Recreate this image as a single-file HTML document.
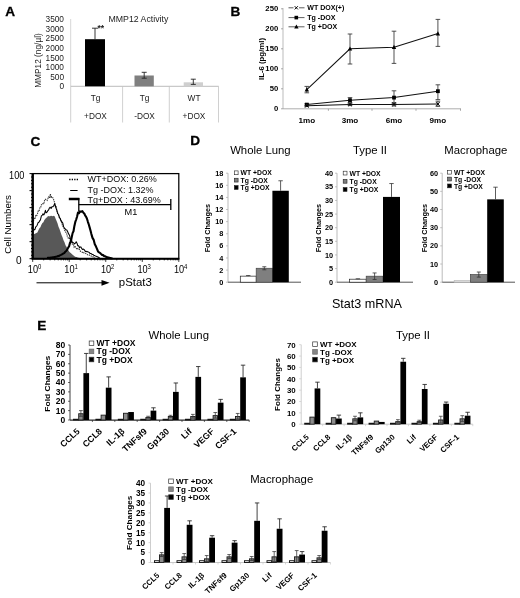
<!DOCTYPE html>
<html lang="en">
<head>
<meta charset="utf-8">
<title>Figure</title>
<style>
html,body{margin:0;padding:0;background:#fff;}
body{width:520px;height:598px;overflow:hidden;}
svg{display:block;filter:blur(0.4px);font-family:'Liberation Sans', sans-serif;}
</style>
</head>
<body>
<svg width="520" height="598" viewBox="0 0 520 598">
<rect x="0" y="0" width="520" height="598" fill="#fff"/>
<text x="5.20" y="16.00" font-size="13.6" font-weight="bold" text-anchor="start" fill="#000" stroke="#000" stroke-width="0.3">A</text>
<text x="230.40" y="16.00" font-size="13.6" font-weight="bold" text-anchor="start" fill="#000" stroke="#000" stroke-width="0.3">B</text>
<text x="30.50" y="146.00" font-size="13.6" font-weight="bold" text-anchor="start" fill="#000" stroke="#000" stroke-width="0.3">C</text>
<text x="190.30" y="145.20" font-size="13.6" font-weight="bold" text-anchor="start" fill="#000" stroke="#000" stroke-width="0.3">D</text>
<text x="37.20" y="329.50" font-size="13.6" font-weight="bold" text-anchor="start" fill="#000" stroke="#000" stroke-width="0.3">E</text>
<g id="panelA">
<text x="64.00" y="89.20" font-size="8.3" text-anchor="end" fill="#222">0</text>
<text x="64.00" y="79.65" font-size="8.3" text-anchor="end" fill="#222">500</text>
<text x="64.00" y="70.10" font-size="8.3" text-anchor="end" fill="#222">1000</text>
<text x="64.00" y="60.55" font-size="8.3" text-anchor="end" fill="#222">1500</text>
<text x="64.00" y="51.00" font-size="8.3" text-anchor="end" fill="#222">2000</text>
<text x="64.00" y="41.45" font-size="8.3" text-anchor="end" fill="#222">2500</text>
<text x="64.00" y="31.90" font-size="8.3" text-anchor="end" fill="#222">3000</text>
<text x="64.00" y="22.35" font-size="8.3" text-anchor="end" fill="#222">3500</text>
<line x1="70.70" y1="19.00" x2="70.70" y2="86.30" stroke="#ccc" stroke-width="0.8"/>
<line x1="70.70" y1="86.30" x2="218.70" y2="86.30" stroke="#aaa" stroke-width="0.8"/>
<line x1="70.70" y1="86.30" x2="70.70" y2="122.50" stroke="#c4c4c4" stroke-width="0.8"/>
<line x1="122.60" y1="86.30" x2="122.60" y2="122.50" stroke="#c4c4c4" stroke-width="0.8"/>
<line x1="169.30" y1="86.30" x2="169.30" y2="122.50" stroke="#c4c4c4" stroke-width="0.8"/>
<line x1="218.50" y1="86.30" x2="218.50" y2="122.50" stroke="#c4c4c4" stroke-width="0.8"/>
<text x="41.20" y="60.50" font-size="8.3" text-anchor="middle" fill="#222" transform="rotate(-90 41.20 60.50)">MMP12 (ng/µl)</text>
<text x="108.50" y="21.70" font-size="8.75" text-anchor="start" fill="#222">MMP12 Activity</text>
<rect x="85.00" y="39.20" width="20.00" height="47.10" fill="#000"/>
<line x1="95.00" y1="28.20" x2="95.00" y2="39.20" stroke="#222" stroke-width="0.9"/>
<line x1="92.00" y1="28.20" x2="98.00" y2="28.20" stroke="#222" stroke-width="0.9"/>
<text x="97.40" y="31.00" font-size="8.6" font-weight="bold" text-anchor="start" fill="#222">**</text>
<rect x="134.50" y="75.50" width="19.30" height="10.80" fill="#7f7f7f"/>
<line x1="144.20" y1="72.30" x2="144.20" y2="78.20" stroke="#222" stroke-width="0.9"/>
<line x1="141.70" y1="72.30" x2="146.70" y2="72.30" stroke="#222" stroke-width="0.9"/>
<line x1="141.70" y1="78.20" x2="146.70" y2="78.20" stroke="#222" stroke-width="0.9"/>
<rect x="183.70" y="82.30" width="19.30" height="4.00" fill="#cfcfcf"/>
<line x1="193.30" y1="79.20" x2="193.30" y2="84.40" stroke="#222" stroke-width="0.9"/>
<line x1="190.80" y1="79.20" x2="195.80" y2="79.20" stroke="#222" stroke-width="0.9"/>
<line x1="190.80" y1="84.40" x2="195.80" y2="84.40" stroke="#222" stroke-width="0.9"/>
<text x="95.50" y="101.00" font-size="8.3" text-anchor="middle" fill="#222">Tg</text>
<text x="95.50" y="119.00" font-size="8.3" text-anchor="middle" fill="#222">+DOX</text>
<text x="144.50" y="101.00" font-size="8.3" text-anchor="middle" fill="#222">Tg</text>
<text x="144.50" y="119.00" font-size="8.3" text-anchor="middle" fill="#222">-DOX</text>
<text x="194.00" y="101.00" font-size="8.3" text-anchor="middle" fill="#222">WT</text>
<text x="194.00" y="119.00" font-size="8.3" text-anchor="middle" fill="#222">+DOX</text>
</g>
<g id="panelB">
<line x1="283.00" y1="8.00" x2="283.00" y2="108.80" stroke="#aaa" stroke-width="0.8"/>
<line x1="283.00" y1="108.80" x2="461.00" y2="108.80" stroke="#999" stroke-width="0.8"/>
<text x="278.20" y="111.30" font-size="7.7" font-weight="bold" text-anchor="end" fill="#000">0</text>
<line x1="281.00" y1="108.80" x2="283.00" y2="108.80" stroke="#888" stroke-width="0.7"/>
<text x="278.20" y="91.30" font-size="7.7" font-weight="bold" text-anchor="end" fill="#000">50</text>
<line x1="281.00" y1="88.80" x2="283.00" y2="88.80" stroke="#888" stroke-width="0.7"/>
<text x="278.20" y="71.30" font-size="7.7" font-weight="bold" text-anchor="end" fill="#000">100</text>
<line x1="281.00" y1="68.80" x2="283.00" y2="68.80" stroke="#888" stroke-width="0.7"/>
<text x="278.20" y="51.30" font-size="7.7" font-weight="bold" text-anchor="end" fill="#000">150</text>
<line x1="281.00" y1="48.80" x2="283.00" y2="48.80" stroke="#888" stroke-width="0.7"/>
<text x="278.20" y="31.30" font-size="7.7" font-weight="bold" text-anchor="end" fill="#000">200</text>
<line x1="281.00" y1="28.80" x2="283.00" y2="28.80" stroke="#888" stroke-width="0.7"/>
<text x="278.20" y="11.30" font-size="7.7" font-weight="bold" text-anchor="end" fill="#000">250</text>
<line x1="281.00" y1="8.80" x2="283.00" y2="8.80" stroke="#888" stroke-width="0.7"/>
<line x1="328.40" y1="108.80" x2="328.40" y2="110.80" stroke="#888" stroke-width="0.7"/>
<line x1="372.00" y1="108.80" x2="372.00" y2="110.80" stroke="#888" stroke-width="0.7"/>
<line x1="416.00" y1="108.80" x2="416.00" y2="110.80" stroke="#888" stroke-width="0.7"/>
<line x1="460.50" y1="108.80" x2="460.50" y2="110.80" stroke="#888" stroke-width="0.7"/>
<text x="306.80" y="122.80" font-size="8.1" font-weight="bold" text-anchor="middle" fill="#000">1mo</text>
<text x="350.00" y="122.80" font-size="8.1" font-weight="bold" text-anchor="middle" fill="#000">3mo</text>
<text x="394.00" y="122.80" font-size="8.1" font-weight="bold" text-anchor="middle" fill="#000">6mo</text>
<text x="437.90" y="122.80" font-size="8.1" font-weight="bold" text-anchor="middle" fill="#000">9mo</text>
<text x="264.00" y="59.00" font-size="7.8" font-weight="bold" text-anchor="middle" fill="#000" transform="rotate(-90 264.00 59.00)">IL-6 (pg/ml)</text>
<polyline fill="none" stroke="#111" stroke-width="1.05" points="306.8,89.6 350.0,48.8 394.0,47.2 437.9,33.6"/>
<polyline fill="none" stroke="#111" stroke-width="1.05" points="306.8,104.6 350.0,100.2 394.0,97.6 437.9,91.2"/>
<polyline fill="none" stroke="#111" stroke-width="1.05" points="306.8,105.8 350.0,104.4 394.0,104.4 437.9,104.0"/>
<line x1="306.80" y1="86.40" x2="306.80" y2="92.80" stroke="#333" stroke-width="0.85"/>
<line x1="304.50" y1="86.40" x2="309.10" y2="86.40" stroke="#333" stroke-width="0.85"/>
<line x1="304.50" y1="92.80" x2="309.10" y2="92.80" stroke="#333" stroke-width="0.85"/>
<path d="M304.6 91.4L309.0 91.4L306.8 87.2Z" fill="#000"/>
<line x1="350.00" y1="34.00" x2="350.00" y2="64.00" stroke="#333" stroke-width="0.85"/>
<line x1="347.70" y1="34.00" x2="352.30" y2="34.00" stroke="#333" stroke-width="0.85"/>
<line x1="347.70" y1="64.00" x2="352.30" y2="64.00" stroke="#333" stroke-width="0.85"/>
<path d="M347.8 50.6L352.2 50.6L350.0 46.4Z" fill="#000"/>
<line x1="394.00" y1="31.20" x2="394.00" y2="63.40" stroke="#333" stroke-width="0.85"/>
<line x1="391.70" y1="31.20" x2="396.30" y2="31.20" stroke="#333" stroke-width="0.85"/>
<line x1="391.70" y1="63.40" x2="396.30" y2="63.40" stroke="#333" stroke-width="0.85"/>
<path d="M391.8 49.0L396.2 49.0L394.0 44.8Z" fill="#000"/>
<line x1="437.90" y1="19.40" x2="437.90" y2="46.40" stroke="#333" stroke-width="0.85"/>
<line x1="435.60" y1="19.40" x2="440.20" y2="19.40" stroke="#333" stroke-width="0.85"/>
<line x1="435.60" y1="46.40" x2="440.20" y2="46.40" stroke="#333" stroke-width="0.85"/>
<path d="M435.7 35.4L440.1 35.4L437.9 31.2Z" fill="#000"/>
<line x1="306.80" y1="103.60" x2="306.80" y2="105.60" stroke="#333" stroke-width="0.85"/>
<line x1="304.50" y1="103.60" x2="309.10" y2="103.60" stroke="#333" stroke-width="0.85"/>
<line x1="304.50" y1="105.60" x2="309.10" y2="105.60" stroke="#333" stroke-width="0.85"/>
<rect x="304.90" y="102.70" width="3.80" height="3.80" fill="#000"/>
<line x1="350.00" y1="97.60" x2="350.00" y2="102.80" stroke="#333" stroke-width="0.85"/>
<line x1="347.70" y1="97.60" x2="352.30" y2="97.60" stroke="#333" stroke-width="0.85"/>
<line x1="347.70" y1="102.80" x2="352.30" y2="102.80" stroke="#333" stroke-width="0.85"/>
<rect x="348.10" y="98.30" width="3.80" height="3.80" fill="#000"/>
<line x1="394.00" y1="90.80" x2="394.00" y2="103.20" stroke="#333" stroke-width="0.85"/>
<line x1="391.70" y1="90.80" x2="396.30" y2="90.80" stroke="#333" stroke-width="0.85"/>
<line x1="391.70" y1="103.20" x2="396.30" y2="103.20" stroke="#333" stroke-width="0.85"/>
<rect x="392.10" y="95.70" width="3.80" height="3.80" fill="#000"/>
<line x1="437.90" y1="84.80" x2="437.90" y2="99.60" stroke="#333" stroke-width="0.85"/>
<line x1="435.60" y1="84.80" x2="440.20" y2="84.80" stroke="#333" stroke-width="0.85"/>
<line x1="435.60" y1="99.60" x2="440.20" y2="99.60" stroke="#333" stroke-width="0.85"/>
<rect x="436.00" y="89.30" width="3.80" height="3.80" fill="#000"/>
<line x1="306.80" y1="105.00" x2="306.80" y2="106.60" stroke="#333" stroke-width="0.85"/>
<line x1="304.50" y1="105.00" x2="309.10" y2="105.00" stroke="#333" stroke-width="0.85"/>
<line x1="304.50" y1="106.60" x2="309.10" y2="106.60" stroke="#333" stroke-width="0.85"/>
<line x1="305.00" y1="104.00" x2="308.60" y2="107.60" stroke="#000" stroke-width="1.0"/>
<line x1="305.00" y1="107.60" x2="308.60" y2="104.00" stroke="#000" stroke-width="1.0"/>
<line x1="350.00" y1="103.20" x2="350.00" y2="105.60" stroke="#333" stroke-width="0.85"/>
<line x1="347.70" y1="103.20" x2="352.30" y2="103.20" stroke="#333" stroke-width="0.85"/>
<line x1="347.70" y1="105.60" x2="352.30" y2="105.60" stroke="#333" stroke-width="0.85"/>
<line x1="348.20" y1="102.60" x2="351.80" y2="106.20" stroke="#000" stroke-width="1.0"/>
<line x1="348.20" y1="106.20" x2="351.80" y2="102.60" stroke="#000" stroke-width="1.0"/>
<line x1="394.00" y1="102.80" x2="394.00" y2="106.00" stroke="#333" stroke-width="0.85"/>
<line x1="391.70" y1="102.80" x2="396.30" y2="102.80" stroke="#333" stroke-width="0.85"/>
<line x1="391.70" y1="106.00" x2="396.30" y2="106.00" stroke="#333" stroke-width="0.85"/>
<line x1="392.20" y1="102.60" x2="395.80" y2="106.20" stroke="#000" stroke-width="1.0"/>
<line x1="392.20" y1="106.20" x2="395.80" y2="102.60" stroke="#000" stroke-width="1.0"/>
<line x1="437.90" y1="101.20" x2="437.90" y2="106.40" stroke="#333" stroke-width="0.85"/>
<line x1="435.60" y1="101.20" x2="440.20" y2="101.20" stroke="#333" stroke-width="0.85"/>
<line x1="435.60" y1="106.40" x2="440.20" y2="106.40" stroke="#333" stroke-width="0.85"/>
<line x1="436.10" y1="102.20" x2="439.70" y2="105.80" stroke="#000" stroke-width="1.0"/>
<line x1="436.10" y1="105.80" x2="439.70" y2="102.20" stroke="#000" stroke-width="1.0"/>
<line x1="288.50" y1="7.80" x2="304.50" y2="7.80" stroke="#333" stroke-width="0.8"/>
<rect x="293.50" y="5.80" width="5.50" height="4.00" fill="#fff"/>
<line x1="294.70" y1="6.20" x2="297.90" y2="9.40" stroke="#000" stroke-width="1.0"/>
<line x1="294.70" y1="9.40" x2="297.90" y2="6.20" stroke="#000" stroke-width="1.0"/>
<text x="307.30" y="10.40" font-size="7.05" font-weight="bold" text-anchor="start" fill="#000">WT DOX(+)</text>
<line x1="288.50" y1="17.60" x2="304.50" y2="17.60" stroke="#333" stroke-width="0.8"/>
<rect x="294.50" y="15.80" width="3.60" height="3.60" fill="#000"/>
<text x="307.30" y="20.20" font-size="7.05" font-weight="bold" text-anchor="start" fill="#000">Tg -DOX</text>
<line x1="288.50" y1="26.80" x2="304.50" y2="26.80" stroke="#333" stroke-width="0.8"/>
<path d="M294.2 28.6L298.6 28.6L296.4 24.400000000000002Z" fill="#000"/>
<text x="307.30" y="29.40" font-size="7.05" font-weight="bold" text-anchor="start" fill="#000">Tg +DOX</text>
</g>
<g id="panelC">
<path d="M33.4,258.2 L33.4,234.5 L34.4,234.0 L35.4,233.4 L36.4,233.1 L37.4,232.6 L38.4,230.2 L39.4,228.3 L40.4,227.2 L41.4,224.8 L42.4,223.1 L43.4,222.2 L44.4,220.1 L45.4,218.8 L46.3,217.7 L47.1,217.2 L48.0,216.0 L49.0,216.2 L50.0,216.3 L51.0,215.7 L52.0,216.1 L52.9,216.2 L53.8,215.7 L54.8,216.6 L55.7,218.9 L56.6,221.1 L57.5,223.3 L58.5,226.8 L59.5,229.1 L60.5,232.0 L61.5,234.9 L62.5,237.3 L63.5,240.2 L64.5,242.3 L65.5,245.2 L66.5,246.7 L67.5,248.7 L68.5,250.4 L69.5,251.9 L70.4,252.7 L71.3,253.5 L72.2,254.4 L73.1,255.1 L74.0,255.9 L74.9,256.6 L75.8,256.9 L76.6,257.1 L77.5,257.4 L78.3,257.7 L79.2,257.9 L80.0,258.2 Z" fill="#585858"/>
<path d="M33.4,221.2 L34.2,218.5 L35.0,219.1 L35.8,215.6 L36.6,216.0 L37.4,214.0 L38.2,211.2 L39.0,211.3 L39.8,207.9 L40.6,207.8 L41.4,204.8 L42.2,203.6 L43.0,203.7 L43.8,204.0 L44.6,200.2 L45.4,199.3 L46.3,200.1 L47.1,200.5 L48.0,198.3 L48.8,196.8 L49.6,198.2 L50.4,193.9 L51.1,197.9 L51.8,196.7 L52.5,197.1 L53.5,199.3 L54.5,202.3 L55.3,206.6 L56.1,206.6 L56.9,210.5 L57.7,213.1 L58.5,214.5 L59.3,217.6 L60.1,218.1 L60.9,220.0 L61.7,222.4 L62.6,226.1 L63.4,227.0 L64.2,228.5 L65.0,231.1 L65.8,232.2 L66.6,233.2 L67.4,236.7 L68.2,238.0 L69.1,237.6 L70.0,240.1 L70.9,241.3 L71.7,243.6 L72.5,244.2 L73.3,244.1 L74.1,247.1 L74.9,246.1 L75.7,247.4 L76.6,248.7 L77.4,248.0 L78.2,249.2 L79.1,249.0 L79.9,250.7 L80.8,251.4 L81.6,251.6 L82.4,252.4 L83.2,252.0 L84.0,252.9 L84.8,253.1 L85.6,253.5 L86.4,253.7 L87.2,254.4 L88.0,254.9 L88.8,254.8 L89.6,255.3 L90.3,255.2 L91.1,255.9 L91.9,256.2 L92.7,256.7 L93.4,256.9 L94.2,257.1 L95.0,257.5" fill="none" stroke="#333" stroke-width="1.1" stroke-dasharray="1.3 0.8"/>
<path d="M33.4,230.5 L34.2,229.6 L34.9,229.6 L35.7,227.0 L36.5,226.1 L37.2,225.2 L38.0,222.8 L38.9,222.2 L39.7,220.9 L40.5,219.7 L41.4,215.8 L42.2,215.4 L43.0,213.7 L43.8,214.9 L44.6,213.5 L45.4,210.3 L46.2,212.8 L47.0,212.2 L47.8,210.7 L48.6,210.0 L49.4,208.0 L50.2,207.2 L51.1,208.5 L51.9,206.7 L52.8,206.8 L53.8,205.6 L54.8,203.6 L55.8,207.6 L56.8,210.2 L57.6,213.5 L58.5,214.5 L59.3,216.9 L60.1,218.5 L61.0,220.8 L61.9,221.9 L62.8,223.1 L63.6,226.7 L64.4,228.1 L65.2,228.9 L66.0,229.8 L66.8,229.9 L67.7,231.7 L68.6,233.9 L69.5,235.2 L70.5,239.4 L71.5,240.2 L72.5,242.8 L73.5,242.7 L74.5,243.9 L75.4,243.2 L76.2,241.7 L77.0,243.2 L77.8,245.8 L78.6,245.7 L79.4,247.6 L80.2,247.0 L80.9,246.9 L81.7,248.5 L82.4,249.4 L83.2,249.1 L83.9,249.4 L84.7,250.4 L85.5,251.6 L86.2,251.7 L87.0,251.3 L87.8,251.9 L88.6,252.1 L89.3,252.5 L90.1,253.6 L90.9,253.4 L91.6,254.1 L92.4,254.4 L93.1,254.6 L93.9,255.4 L94.6,255.4 L95.4,256.1 L96.2,256.2 L96.9,256.6 L97.7,256.9 L98.5,257.3 L99.2,257.7 L100.0,258.0" fill="none" stroke="#000" stroke-width="1.05" stroke-linejoin="round"/>
<path d="M47.0,258.0 L48.0,257.9 L49.0,257.8 L50.0,257.7 L51.0,257.6 L52.0,257.5 L53.0,257.2 L54.0,257.1 L54.9,256.9 L55.9,256.7 L56.9,256.5 L57.8,256.1 L58.8,256.0 L59.9,255.4 L61.0,254.9 L62.0,254.4 L63.1,253.6 L64.2,253.1 L65.2,251.8 L66.2,251.0 L67.2,249.6 L68.2,247.6 L69.1,246.2 L70.0,242.9 L70.9,241.4 L71.8,236.9 L72.6,233.1 L73.5,231.2 L74.4,225.9 L75.3,221.9 L76.2,219.5 L77.1,216.5 L78.0,212.6 L79.0,213.1 L80.0,211.4 L81.1,211.8 L82.3,211.0 L83.4,212.7 L84.3,213.5 L85.1,215.4 L86.0,216.6 L86.9,218.5 L87.9,221.8 L88.8,224.5 L89.7,227.6 L90.5,230.5 L91.4,234.1 L92.5,237.9 L93.7,239.9 L94.8,244.3 L95.9,246.3 L97.0,248.8 L98.1,251.7 L99.1,252.3 L100.1,253.0 L101.1,254.0 L102.1,254.9 L103.1,255.1 L104.0,255.9 L105.0,256.2 L106.0,256.8 L107.0,257.2 L108.0,257.4 L109.0,257.8 L109.9,257.9 L110.8,258.1 L111.6,258.2 L112.5,258.4" fill="none" stroke="#000" stroke-width="2.1" stroke-linejoin="round"/>
<rect x="32.7" y="173.6" width="146.10000000000002" height="85.1" fill="none" stroke="#000" stroke-width="1.25"/>
<line x1="32.70" y1="173.60" x2="32.70" y2="258.70" stroke="#000" stroke-width="2.4"/>
<line x1="31.50" y1="258.70" x2="179.30" y2="258.70" stroke="#000" stroke-width="1.9"/>
<line x1="29.50" y1="258.70" x2="32.70" y2="258.70" stroke="#000" stroke-width="1.0"/>
<line x1="31.00" y1="255.30" x2="32.70" y2="255.30" stroke="#000" stroke-width="1.0"/>
<line x1="31.00" y1="251.89" x2="32.70" y2="251.89" stroke="#000" stroke-width="1.0"/>
<line x1="31.00" y1="248.49" x2="32.70" y2="248.49" stroke="#000" stroke-width="1.0"/>
<line x1="31.00" y1="245.08" x2="32.70" y2="245.08" stroke="#000" stroke-width="1.0"/>
<line x1="29.50" y1="241.68" x2="32.70" y2="241.68" stroke="#000" stroke-width="1.0"/>
<line x1="31.00" y1="238.28" x2="32.70" y2="238.28" stroke="#000" stroke-width="1.0"/>
<line x1="31.00" y1="234.87" x2="32.70" y2="234.87" stroke="#000" stroke-width="1.0"/>
<line x1="31.00" y1="231.47" x2="32.70" y2="231.47" stroke="#000" stroke-width="1.0"/>
<line x1="31.00" y1="228.06" x2="32.70" y2="228.06" stroke="#000" stroke-width="1.0"/>
<line x1="29.50" y1="224.66" x2="32.70" y2="224.66" stroke="#000" stroke-width="1.0"/>
<line x1="31.00" y1="221.26" x2="32.70" y2="221.26" stroke="#000" stroke-width="1.0"/>
<line x1="31.00" y1="217.85" x2="32.70" y2="217.85" stroke="#000" stroke-width="1.0"/>
<line x1="31.00" y1="214.45" x2="32.70" y2="214.45" stroke="#000" stroke-width="1.0"/>
<line x1="31.00" y1="211.04" x2="32.70" y2="211.04" stroke="#000" stroke-width="1.0"/>
<line x1="29.50" y1="207.64" x2="32.70" y2="207.64" stroke="#000" stroke-width="1.0"/>
<line x1="31.00" y1="204.24" x2="32.70" y2="204.24" stroke="#000" stroke-width="1.0"/>
<line x1="31.00" y1="200.83" x2="32.70" y2="200.83" stroke="#000" stroke-width="1.0"/>
<line x1="31.00" y1="197.43" x2="32.70" y2="197.43" stroke="#000" stroke-width="1.0"/>
<line x1="31.00" y1="194.02" x2="32.70" y2="194.02" stroke="#000" stroke-width="1.0"/>
<line x1="29.50" y1="190.62" x2="32.70" y2="190.62" stroke="#000" stroke-width="1.0"/>
<line x1="31.00" y1="187.22" x2="32.70" y2="187.22" stroke="#000" stroke-width="1.0"/>
<line x1="31.00" y1="183.81" x2="32.70" y2="183.81" stroke="#000" stroke-width="1.0"/>
<line x1="31.00" y1="180.41" x2="32.70" y2="180.41" stroke="#000" stroke-width="1.0"/>
<line x1="31.00" y1="177.00" x2="32.70" y2="177.00" stroke="#000" stroke-width="1.0"/>
<line x1="29.50" y1="173.60" x2="32.70" y2="173.60" stroke="#000" stroke-width="1.0"/>
<line x1="32.70" y1="258.70" x2="32.70" y2="261.90" stroke="#000" stroke-width="0.8"/>
<line x1="43.70" y1="258.70" x2="43.70" y2="260.40" stroke="#000" stroke-width="0.8"/>
<line x1="50.13" y1="258.70" x2="50.13" y2="260.40" stroke="#000" stroke-width="0.8"/>
<line x1="54.69" y1="258.70" x2="54.69" y2="260.40" stroke="#000" stroke-width="0.8"/>
<line x1="58.23" y1="258.70" x2="58.23" y2="260.40" stroke="#000" stroke-width="0.8"/>
<line x1="61.12" y1="258.70" x2="61.12" y2="260.40" stroke="#000" stroke-width="0.8"/>
<line x1="63.57" y1="258.70" x2="63.57" y2="260.40" stroke="#000" stroke-width="0.8"/>
<line x1="65.69" y1="258.70" x2="65.69" y2="260.40" stroke="#000" stroke-width="0.8"/>
<line x1="67.55" y1="258.70" x2="67.55" y2="260.40" stroke="#000" stroke-width="0.8"/>
<line x1="69.23" y1="258.70" x2="69.23" y2="261.90" stroke="#000" stroke-width="0.8"/>
<line x1="80.22" y1="258.70" x2="80.22" y2="260.40" stroke="#000" stroke-width="0.8"/>
<line x1="86.65" y1="258.70" x2="86.65" y2="260.40" stroke="#000" stroke-width="0.8"/>
<line x1="91.22" y1="258.70" x2="91.22" y2="260.40" stroke="#000" stroke-width="0.8"/>
<line x1="94.75" y1="258.70" x2="94.75" y2="260.40" stroke="#000" stroke-width="0.8"/>
<line x1="97.65" y1="258.70" x2="97.65" y2="260.40" stroke="#000" stroke-width="0.8"/>
<line x1="100.09" y1="258.70" x2="100.09" y2="260.40" stroke="#000" stroke-width="0.8"/>
<line x1="102.21" y1="258.70" x2="102.21" y2="260.40" stroke="#000" stroke-width="0.8"/>
<line x1="104.08" y1="258.70" x2="104.08" y2="260.40" stroke="#000" stroke-width="0.8"/>
<line x1="105.75" y1="258.70" x2="105.75" y2="261.90" stroke="#000" stroke-width="0.8"/>
<line x1="116.75" y1="258.70" x2="116.75" y2="260.40" stroke="#000" stroke-width="0.8"/>
<line x1="123.18" y1="258.70" x2="123.18" y2="260.40" stroke="#000" stroke-width="0.8"/>
<line x1="127.74" y1="258.70" x2="127.74" y2="260.40" stroke="#000" stroke-width="0.8"/>
<line x1="131.28" y1="258.70" x2="131.28" y2="260.40" stroke="#000" stroke-width="0.8"/>
<line x1="134.17" y1="258.70" x2="134.17" y2="260.40" stroke="#000" stroke-width="0.8"/>
<line x1="136.62" y1="258.70" x2="136.62" y2="260.40" stroke="#000" stroke-width="0.8"/>
<line x1="138.74" y1="258.70" x2="138.74" y2="260.40" stroke="#000" stroke-width="0.8"/>
<line x1="140.60" y1="258.70" x2="140.60" y2="260.40" stroke="#000" stroke-width="0.8"/>
<line x1="142.28" y1="258.70" x2="142.28" y2="261.90" stroke="#000" stroke-width="0.8"/>
<line x1="153.27" y1="258.70" x2="153.27" y2="260.40" stroke="#000" stroke-width="0.8"/>
<line x1="159.70" y1="258.70" x2="159.70" y2="260.40" stroke="#000" stroke-width="0.8"/>
<line x1="164.27" y1="258.70" x2="164.27" y2="260.40" stroke="#000" stroke-width="0.8"/>
<line x1="167.80" y1="258.70" x2="167.80" y2="260.40" stroke="#000" stroke-width="0.8"/>
<line x1="170.70" y1="258.70" x2="170.70" y2="260.40" stroke="#000" stroke-width="0.8"/>
<line x1="173.14" y1="258.70" x2="173.14" y2="260.40" stroke="#000" stroke-width="0.8"/>
<line x1="175.26" y1="258.70" x2="175.26" y2="260.40" stroke="#000" stroke-width="0.8"/>
<line x1="177.13" y1="258.70" x2="177.13" y2="260.40" stroke="#000" stroke-width="0.8"/>
<line x1="178.80" y1="258.70" x2="178.80" y2="261.90" stroke="#000" stroke-width="0.8"/>
<text transform="translate(24.4 178.8) scale(0.9 1)" x="0" y="0" font-size="10.2" text-anchor="end" fill="#000">100</text>
<text x="21.60" y="263.80" font-size="10.1" text-anchor="end" fill="#000">0</text>
<text transform="translate(27.8 273) scale(0.9 1)" x="0" y="0" font-size="10.2" fill="#000">10<tspan dy="-4.2" font-size="6.6">0</tspan></text>
<text transform="translate(64.3 273) scale(0.9 1)" x="0" y="0" font-size="10.2" fill="#000">10<tspan dy="-4.2" font-size="6.6">1</tspan></text>
<text transform="translate(100.9 273) scale(0.9 1)" x="0" y="0" font-size="10.2" fill="#000">10<tspan dy="-4.2" font-size="6.6">2</tspan></text>
<text transform="translate(137.4 273) scale(0.9 1)" x="0" y="0" font-size="10.2" fill="#000">10<tspan dy="-4.2" font-size="6.6">3</tspan></text>
<text transform="translate(173.9 273) scale(0.9 1)" x="0" y="0" font-size="10.2" fill="#000">10<tspan dy="-4.2" font-size="6.6">4</tspan></text>
<text x="11.00" y="224.50" font-size="9.7" text-anchor="middle" fill="#000" transform="rotate(-90 11.00 224.50)">Cell Numbers</text>
<line x1="69.2" y1="179.5" x2="78.4" y2="179.5" stroke="#000" stroke-width="1.3" stroke-dasharray="1.3 1.2"/>
<line x1="70.20" y1="190.50" x2="77.60" y2="190.50" stroke="#000" stroke-width="1.0"/>
<line x1="68.80" y1="199.00" x2="79.40" y2="199.00" stroke="#000" stroke-width="2.5"/>
<text x="87.50" y="182.40" font-size="9" text-anchor="start" fill="#0a0a0a">WT+DOX: 0.26%</text>
<text x="87.50" y="192.90" font-size="9" text-anchor="start" fill="#0a0a0a">Tg -DOX: 1.32%</text>
<text x="87.50" y="203.30" font-size="9" text-anchor="start" fill="#0a0a0a">Tg+DOX : 43.69%</text>
<line x1="78.80" y1="204.60" x2="170.80" y2="204.60" stroke="#000" stroke-width="1.25"/>
<line x1="78.80" y1="198.00" x2="78.80" y2="211.50" stroke="#000" stroke-width="1.3"/>
<line x1="170.80" y1="199.00" x2="170.80" y2="210.00" stroke="#000" stroke-width="1.3"/>
<text x="131.00" y="214.80" font-size="9.2" text-anchor="middle" fill="#000">M1</text>
<line x1="36.50" y1="282.80" x2="105.00" y2="282.80" stroke="#000" stroke-width="1.0"/>
<path d="M101.5 279.9 L109.6 282.8 L101.5 285.7 Z" fill="#000"/>
<text x="118.80" y="286.40" font-size="11.4" text-anchor="start" fill="#000">pStat3</text>
</g>
<g id="panelD">
<line x1="228.00" y1="173.20" x2="228.00" y2="282.20" stroke="#aaa" stroke-width="0.8"/>
<line x1="228.00" y1="282.20" x2="301.00" y2="282.20" stroke="#555" stroke-width="1.0"/>
<text x="223.40" y="284.80" font-size="7.3" font-weight="bold" text-anchor="end" fill="#000">0</text>
<line x1="226.00" y1="282.20" x2="228.00" y2="282.20" stroke="#aaa" stroke-width="0.7"/>
<text x="223.40" y="272.69" font-size="7.3" font-weight="bold" text-anchor="end" fill="#000">2</text>
<line x1="226.00" y1="270.09" x2="228.00" y2="270.09" stroke="#aaa" stroke-width="0.7"/>
<text x="223.40" y="260.58" font-size="7.3" font-weight="bold" text-anchor="end" fill="#000">4</text>
<line x1="226.00" y1="257.98" x2="228.00" y2="257.98" stroke="#aaa" stroke-width="0.7"/>
<text x="223.40" y="248.47" font-size="7.3" font-weight="bold" text-anchor="end" fill="#000">6</text>
<line x1="226.00" y1="245.87" x2="228.00" y2="245.87" stroke="#aaa" stroke-width="0.7"/>
<text x="223.40" y="236.36" font-size="7.3" font-weight="bold" text-anchor="end" fill="#000">8</text>
<line x1="226.00" y1="233.76" x2="228.00" y2="233.76" stroke="#aaa" stroke-width="0.7"/>
<text x="223.40" y="224.24" font-size="7.3" font-weight="bold" text-anchor="end" fill="#000">10</text>
<line x1="226.00" y1="221.64" x2="228.00" y2="221.64" stroke="#aaa" stroke-width="0.7"/>
<text x="223.40" y="212.13" font-size="7.3" font-weight="bold" text-anchor="end" fill="#000">12</text>
<line x1="226.00" y1="209.53" x2="228.00" y2="209.53" stroke="#aaa" stroke-width="0.7"/>
<text x="223.40" y="200.02" font-size="7.3" font-weight="bold" text-anchor="end" fill="#000">14</text>
<line x1="226.00" y1="197.42" x2="228.00" y2="197.42" stroke="#aaa" stroke-width="0.7"/>
<text x="223.40" y="187.91" font-size="7.3" font-weight="bold" text-anchor="end" fill="#000">16</text>
<line x1="226.00" y1="185.31" x2="228.00" y2="185.31" stroke="#aaa" stroke-width="0.7"/>
<text x="223.40" y="175.80" font-size="7.3" font-weight="bold" text-anchor="end" fill="#000">18</text>
<line x1="226.00" y1="173.20" x2="228.00" y2="173.20" stroke="#aaa" stroke-width="0.7"/>
<rect x="240.30" y="276.14" width="15.90" height="6.06" fill="#fff" stroke="#222" stroke-width="0.7"/>
<line x1="248.25" y1="275.54" x2="248.25" y2="276.14" stroke="#333" stroke-width="0.8"/>
<line x1="246.05" y1="275.54" x2="250.45" y2="275.54" stroke="#333" stroke-width="0.8"/>
<rect x="256.20" y="268.27" width="16.20" height="13.93" fill="#7f7f7f" stroke="#444" stroke-width="0.7"/>
<line x1="264.30" y1="266.76" x2="264.30" y2="269.79" stroke="#333" stroke-width="0.8"/>
<line x1="262.30" y1="266.76" x2="266.30" y2="266.76" stroke="#333" stroke-width="0.8"/>
<line x1="262.30" y1="269.79" x2="266.30" y2="269.79" stroke="#333" stroke-width="0.8"/>
<rect x="272.40" y="190.76" width="16.40" height="91.44" fill="#000"/>
<line x1="280.60" y1="180.77" x2="280.60" y2="190.76" stroke="#333" stroke-width="0.8"/>
<line x1="278.40" y1="180.77" x2="282.80" y2="180.77" stroke="#333" stroke-width="0.8"/>
<text x="260.40" y="153.60" font-size="11.35" text-anchor="middle" fill="#000">Whole Lung</text>
<text x="210.20" y="228.00" font-size="7.3" font-weight="bold" text-anchor="middle" fill="#000" transform="rotate(-90 210.20 228.00)">Fold Changes</text>
<rect x="234.30" y="170.90" width="3.80" height="3.80" fill="#fff" stroke="#222" stroke-width="0.6"/>
<text x="240.60" y="175.40" font-size="6.8" font-weight="bold" text-anchor="start" fill="#000">WT +DOX</text>
<rect x="234.30" y="178.25" width="3.80" height="3.80" fill="#7f7f7f" stroke="#222" stroke-width="0.6"/>
<text x="240.60" y="182.75" font-size="6.8" font-weight="bold" text-anchor="start" fill="#000">Tg -DOX</text>
<rect x="234.30" y="185.60" width="3.80" height="3.80" fill="#000" stroke="#222" stroke-width="0.6"/>
<text x="240.60" y="190.10" font-size="6.8" font-weight="bold" text-anchor="start" fill="#000">Tg +DOX</text>
<line x1="337.00" y1="173.20" x2="337.00" y2="282.20" stroke="#aaa" stroke-width="0.8"/>
<line x1="337.00" y1="282.20" x2="413.00" y2="282.20" stroke="#555" stroke-width="1.0"/>
<text x="333.00" y="284.80" font-size="7.3" font-weight="bold" text-anchor="end" fill="#000">0</text>
<line x1="335.00" y1="282.20" x2="337.00" y2="282.20" stroke="#aaa" stroke-width="0.7"/>
<text x="333.00" y="271.18" font-size="7.3" font-weight="bold" text-anchor="end" fill="#000">5</text>
<line x1="335.00" y1="268.57" x2="337.00" y2="268.57" stroke="#aaa" stroke-width="0.7"/>
<text x="333.00" y="257.55" font-size="7.3" font-weight="bold" text-anchor="end" fill="#000">10</text>
<line x1="335.00" y1="254.95" x2="337.00" y2="254.95" stroke="#aaa" stroke-width="0.7"/>
<text x="333.00" y="243.92" font-size="7.3" font-weight="bold" text-anchor="end" fill="#000">15</text>
<line x1="335.00" y1="241.32" x2="337.00" y2="241.32" stroke="#aaa" stroke-width="0.7"/>
<text x="333.00" y="230.30" font-size="7.3" font-weight="bold" text-anchor="end" fill="#000">20</text>
<line x1="335.00" y1="227.70" x2="337.00" y2="227.70" stroke="#aaa" stroke-width="0.7"/>
<text x="333.00" y="216.67" font-size="7.3" font-weight="bold" text-anchor="end" fill="#000">25</text>
<line x1="335.00" y1="214.07" x2="337.00" y2="214.07" stroke="#aaa" stroke-width="0.7"/>
<text x="333.00" y="203.05" font-size="7.3" font-weight="bold" text-anchor="end" fill="#000">30</text>
<line x1="335.00" y1="200.45" x2="337.00" y2="200.45" stroke="#aaa" stroke-width="0.7"/>
<text x="333.00" y="189.42" font-size="7.3" font-weight="bold" text-anchor="end" fill="#000">35</text>
<line x1="335.00" y1="186.82" x2="337.00" y2="186.82" stroke="#aaa" stroke-width="0.7"/>
<text x="333.00" y="175.80" font-size="7.3" font-weight="bold" text-anchor="end" fill="#000">40</text>
<line x1="335.00" y1="173.20" x2="337.00" y2="173.20" stroke="#aaa" stroke-width="0.7"/>
<rect x="349.60" y="279.20" width="16.60" height="3.00" fill="#fff" stroke="#222" stroke-width="0.7"/>
<line x1="357.90" y1="278.79" x2="357.90" y2="279.20" stroke="#333" stroke-width="0.8"/>
<line x1="355.70" y1="278.79" x2="360.10" y2="278.79" stroke="#333" stroke-width="0.8"/>
<rect x="366.20" y="276.20" width="16.80" height="6.00" fill="#7f7f7f" stroke="#444" stroke-width="0.7"/>
<line x1="374.60" y1="272.94" x2="374.60" y2="279.47" stroke="#333" stroke-width="0.8"/>
<line x1="372.60" y1="272.94" x2="376.60" y2="272.94" stroke="#333" stroke-width="0.8"/>
<line x1="372.60" y1="279.47" x2="376.60" y2="279.47" stroke="#333" stroke-width="0.8"/>
<rect x="383.00" y="196.91" width="17.00" height="85.29" fill="#000"/>
<line x1="391.50" y1="183.55" x2="391.50" y2="196.91" stroke="#333" stroke-width="0.8"/>
<line x1="389.30" y1="183.55" x2="393.70" y2="183.55" stroke="#333" stroke-width="0.8"/>
<text x="370.00" y="153.60" font-size="11.35" text-anchor="middle" fill="#000">Type II</text>
<text x="320.90" y="228.00" font-size="7.3" font-weight="bold" text-anchor="middle" fill="#000" transform="rotate(-90 320.90 228.00)">Fold Changes</text>
<rect x="343.20" y="171.20" width="3.80" height="3.80" fill="#fff" stroke="#222" stroke-width="0.6"/>
<text x="349.50" y="175.70" font-size="6.8" font-weight="bold" text-anchor="start" fill="#000">WT +DOX</text>
<rect x="343.20" y="179.40" width="3.80" height="3.80" fill="#7f7f7f" stroke="#222" stroke-width="0.6"/>
<text x="349.50" y="183.90" font-size="6.8" font-weight="bold" text-anchor="start" fill="#000">Tg -DOX</text>
<rect x="343.20" y="187.60" width="3.80" height="3.80" fill="#000" stroke="#222" stroke-width="0.6"/>
<text x="349.50" y="192.10" font-size="6.8" font-weight="bold" text-anchor="start" fill="#000">Tg +DOX</text>
<line x1="442.20" y1="173.20" x2="442.20" y2="282.20" stroke="#aaa" stroke-width="0.8"/>
<line x1="442.20" y1="282.20" x2="515.00" y2="282.20" stroke="#555" stroke-width="1.0"/>
<text x="438.00" y="284.80" font-size="7.3" font-weight="bold" text-anchor="end" fill="#000">0</text>
<line x1="440.20" y1="282.20" x2="442.20" y2="282.20" stroke="#aaa" stroke-width="0.7"/>
<text x="438.00" y="266.63" font-size="7.3" font-weight="bold" text-anchor="end" fill="#000">10</text>
<line x1="440.20" y1="264.03" x2="442.20" y2="264.03" stroke="#aaa" stroke-width="0.7"/>
<text x="438.00" y="248.47" font-size="7.3" font-weight="bold" text-anchor="end" fill="#000">20</text>
<line x1="440.20" y1="245.87" x2="442.20" y2="245.87" stroke="#aaa" stroke-width="0.7"/>
<text x="438.00" y="230.30" font-size="7.3" font-weight="bold" text-anchor="end" fill="#000">30</text>
<line x1="440.20" y1="227.70" x2="442.20" y2="227.70" stroke="#aaa" stroke-width="0.7"/>
<text x="438.00" y="212.13" font-size="7.3" font-weight="bold" text-anchor="end" fill="#000">40</text>
<line x1="440.20" y1="209.53" x2="442.20" y2="209.53" stroke="#aaa" stroke-width="0.7"/>
<text x="438.00" y="193.97" font-size="7.3" font-weight="bold" text-anchor="end" fill="#000">50</text>
<line x1="440.20" y1="191.37" x2="442.20" y2="191.37" stroke="#aaa" stroke-width="0.7"/>
<text x="438.00" y="175.80" font-size="7.3" font-weight="bold" text-anchor="end" fill="#000">60</text>
<line x1="440.20" y1="173.20" x2="442.20" y2="173.20" stroke="#aaa" stroke-width="0.7"/>
<rect x="454.20" y="280.38" width="16.20" height="1.82" fill="#dcdcdc" stroke="#bdbdbd" stroke-width="0.7"/>
<rect x="470.40" y="274.57" width="16.80" height="7.63" fill="#7f7f7f" stroke="#444" stroke-width="0.7"/>
<line x1="478.80" y1="272.03" x2="478.80" y2="277.11" stroke="#333" stroke-width="0.8"/>
<line x1="476.80" y1="272.03" x2="480.80" y2="272.03" stroke="#333" stroke-width="0.8"/>
<line x1="476.80" y1="277.11" x2="480.80" y2="277.11" stroke="#333" stroke-width="0.8"/>
<rect x="487.20" y="199.36" width="16.60" height="82.84" fill="#000"/>
<line x1="495.50" y1="187.19" x2="495.50" y2="199.36" stroke="#333" stroke-width="0.8"/>
<line x1="493.30" y1="187.19" x2="497.70" y2="187.19" stroke="#333" stroke-width="0.8"/>
<text x="475.80" y="153.60" font-size="11.35" text-anchor="middle" fill="#000">Macrophage</text>
<text x="427.00" y="228.00" font-size="7.3" font-weight="bold" text-anchor="middle" fill="#000" transform="rotate(-90 427.00 228.00)">Fold Changes</text>
<rect x="447.60" y="170.30" width="3.80" height="3.80" fill="#fff" stroke="#222" stroke-width="0.6"/>
<text x="453.90" y="174.80" font-size="6.8" font-weight="bold" text-anchor="start" fill="#000">WT +DOX</text>
<rect x="447.60" y="177.15" width="3.80" height="3.80" fill="#7f7f7f" stroke="#222" stroke-width="0.6"/>
<text x="453.90" y="181.65" font-size="6.8" font-weight="bold" text-anchor="start" fill="#000">Tg -DOX</text>
<rect x="447.60" y="184.00" width="3.80" height="3.80" fill="#000" stroke="#222" stroke-width="0.6"/>
<text x="453.90" y="188.50" font-size="6.8" font-weight="bold" text-anchor="start" fill="#000">Tg +DOX</text>
<text x="366.90" y="308.00" font-size="12.6" text-anchor="middle" fill="#000">Stat3 mRNA</text>
</g>
<g id="panelE">
<line x1="70.00" y1="345.00" x2="70.00" y2="420.00" stroke="#2a2a2a" stroke-width="0.9"/>
<line x1="70.00" y1="420.00" x2="249.20" y2="420.00" stroke="#2a2a2a" stroke-width="1.25"/>
<text x="65.20" y="422.90" font-size="8.5" font-weight="bold" text-anchor="end" fill="#000">0</text>
<line x1="68.00" y1="420.00" x2="70.00" y2="420.00" stroke="#2a2a2a" stroke-width="0.7"/>
<text x="65.20" y="413.52" font-size="8.5" font-weight="bold" text-anchor="end" fill="#000">10</text>
<line x1="68.00" y1="410.62" x2="70.00" y2="410.62" stroke="#2a2a2a" stroke-width="0.7"/>
<text x="65.20" y="404.15" font-size="8.5" font-weight="bold" text-anchor="end" fill="#000">20</text>
<line x1="68.00" y1="401.25" x2="70.00" y2="401.25" stroke="#2a2a2a" stroke-width="0.7"/>
<text x="65.20" y="394.77" font-size="8.5" font-weight="bold" text-anchor="end" fill="#000">30</text>
<line x1="68.00" y1="391.88" x2="70.00" y2="391.88" stroke="#2a2a2a" stroke-width="0.7"/>
<text x="65.20" y="385.40" font-size="8.5" font-weight="bold" text-anchor="end" fill="#000">40</text>
<line x1="68.00" y1="382.50" x2="70.00" y2="382.50" stroke="#2a2a2a" stroke-width="0.7"/>
<text x="65.20" y="376.02" font-size="8.5" font-weight="bold" text-anchor="end" fill="#000">50</text>
<line x1="68.00" y1="373.12" x2="70.00" y2="373.12" stroke="#2a2a2a" stroke-width="0.7"/>
<text x="65.20" y="366.65" font-size="8.5" font-weight="bold" text-anchor="end" fill="#000">60</text>
<line x1="68.00" y1="363.75" x2="70.00" y2="363.75" stroke="#2a2a2a" stroke-width="0.7"/>
<text x="65.20" y="357.27" font-size="8.5" font-weight="bold" text-anchor="end" fill="#000">70</text>
<line x1="68.00" y1="354.38" x2="70.00" y2="354.38" stroke="#2a2a2a" stroke-width="0.7"/>
<text x="65.20" y="347.90" font-size="8.5" font-weight="bold" text-anchor="end" fill="#000">80</text>
<line x1="68.00" y1="345.00" x2="70.00" y2="345.00" stroke="#2a2a2a" stroke-width="0.7"/>
<line x1="92.40" y1="420.00" x2="92.40" y2="422.00" stroke="#2a2a2a" stroke-width="0.7"/>
<rect x="73.50" y="419.26" width="4.90" height="0.74" fill="#fff" stroke="#111" stroke-width="0.95"/>
<rect x="78.70" y="413.74" width="4.40" height="6.26" fill="#8c8c8c" stroke="#1a1a1a" stroke-width="0.9"/>
<line x1="80.90" y1="410.62" x2="80.90" y2="416.25" stroke="#333" stroke-width="0.75"/>
<line x1="79.00" y1="410.62" x2="82.80" y2="410.62" stroke="#333" stroke-width="0.75"/>
<line x1="79.00" y1="416.25" x2="82.80" y2="416.25" stroke="#333" stroke-width="0.75"/>
<rect x="83.40" y="373.12" width="5.70" height="46.88" fill="#000"/>
<line x1="86.25" y1="353.44" x2="86.25" y2="373.12" stroke="#222" stroke-width="0.85"/>
<line x1="84.05" y1="353.44" x2="88.45" y2="353.44" stroke="#222" stroke-width="0.85"/>
<text x="80.30" y="432.10" font-size="8.8" font-weight="bold" text-anchor="end" fill="#000" transform="rotate(-43 80.30 432.10)">CCL5</text>
<line x1="114.80" y1="420.00" x2="114.80" y2="422.00" stroke="#2a2a2a" stroke-width="0.7"/>
<rect x="95.90" y="419.26" width="4.90" height="0.74" fill="#fff" stroke="#111" stroke-width="0.95"/>
<rect x="101.10" y="415.14" width="4.40" height="4.86" fill="#8c8c8c" stroke="#1a1a1a" stroke-width="0.9"/>
<rect x="105.80" y="387.66" width="5.70" height="32.34" fill="#000"/>
<line x1="108.65" y1="376.88" x2="108.65" y2="387.66" stroke="#222" stroke-width="0.85"/>
<line x1="106.45" y1="376.88" x2="110.85" y2="376.88" stroke="#222" stroke-width="0.85"/>
<text x="102.70" y="432.10" font-size="8.8" font-weight="bold" text-anchor="end" fill="#000" transform="rotate(-43 102.70 432.10)">CCL8</text>
<line x1="137.20" y1="420.00" x2="137.20" y2="422.00" stroke="#2a2a2a" stroke-width="0.7"/>
<rect x="118.30" y="419.26" width="4.90" height="0.74" fill="#fff" stroke="#111" stroke-width="0.95"/>
<rect x="123.50" y="413.27" width="4.40" height="6.73" fill="#8c8c8c" stroke="#1a1a1a" stroke-width="0.9"/>
<rect x="128.20" y="412.03" width="5.70" height="7.97" fill="#000"/>
<text x="125.10" y="432.10" font-size="8.8" font-weight="bold" text-anchor="end" fill="#000" transform="rotate(-43 125.10 432.10)">IL-1β</text>
<line x1="159.60" y1="420.00" x2="159.60" y2="422.00" stroke="#2a2a2a" stroke-width="0.7"/>
<rect x="140.70" y="419.26" width="4.90" height="0.74" fill="#fff" stroke="#111" stroke-width="0.95"/>
<rect x="145.90" y="417.49" width="4.40" height="2.51" fill="#8c8c8c" stroke="#1a1a1a" stroke-width="0.9"/>
<line x1="148.10" y1="416.25" x2="148.10" y2="418.12" stroke="#333" stroke-width="0.75"/>
<line x1="146.20" y1="416.25" x2="150.00" y2="416.25" stroke="#333" stroke-width="0.75"/>
<line x1="146.20" y1="418.12" x2="150.00" y2="418.12" stroke="#333" stroke-width="0.75"/>
<rect x="150.60" y="410.62" width="5.70" height="9.38" fill="#000"/>
<line x1="153.45" y1="407.81" x2="153.45" y2="410.62" stroke="#222" stroke-width="0.85"/>
<line x1="151.25" y1="407.81" x2="155.65" y2="407.81" stroke="#222" stroke-width="0.85"/>
<text x="147.50" y="432.10" font-size="8.8" font-weight="bold" text-anchor="end" fill="#000" transform="rotate(-43 147.50 432.10)">TNFsf9</text>
<line x1="182.00" y1="420.00" x2="182.00" y2="422.00" stroke="#2a2a2a" stroke-width="0.7"/>
<rect x="163.10" y="419.26" width="4.90" height="0.74" fill="#fff" stroke="#111" stroke-width="0.95"/>
<rect x="168.30" y="416.55" width="4.40" height="3.45" fill="#8c8c8c" stroke="#1a1a1a" stroke-width="0.9"/>
<line x1="170.50" y1="415.31" x2="170.50" y2="417.19" stroke="#333" stroke-width="0.75"/>
<line x1="168.60" y1="415.31" x2="172.40" y2="415.31" stroke="#333" stroke-width="0.75"/>
<line x1="168.60" y1="417.19" x2="172.40" y2="417.19" stroke="#333" stroke-width="0.75"/>
<rect x="173.00" y="391.88" width="5.70" height="28.12" fill="#000"/>
<line x1="175.85" y1="382.97" x2="175.85" y2="391.88" stroke="#222" stroke-width="0.85"/>
<line x1="173.65" y1="382.97" x2="178.05" y2="382.97" stroke="#222" stroke-width="0.85"/>
<text x="169.90" y="432.10" font-size="8.8" font-weight="bold" text-anchor="end" fill="#000" transform="rotate(-43 169.90 432.10)">Gp130</text>
<line x1="204.40" y1="420.00" x2="204.40" y2="422.00" stroke="#2a2a2a" stroke-width="0.7"/>
<rect x="185.50" y="419.26" width="4.90" height="0.74" fill="#fff" stroke="#111" stroke-width="0.95"/>
<rect x="190.70" y="416.55" width="4.40" height="3.45" fill="#8c8c8c" stroke="#1a1a1a" stroke-width="0.9"/>
<line x1="192.90" y1="414.38" x2="192.90" y2="418.12" stroke="#333" stroke-width="0.75"/>
<line x1="191.00" y1="414.38" x2="194.80" y2="414.38" stroke="#333" stroke-width="0.75"/>
<line x1="191.00" y1="418.12" x2="194.80" y2="418.12" stroke="#333" stroke-width="0.75"/>
<rect x="195.40" y="376.88" width="5.70" height="43.12" fill="#000"/>
<line x1="198.25" y1="366.56" x2="198.25" y2="376.88" stroke="#222" stroke-width="0.85"/>
<line x1="196.05" y1="366.56" x2="200.45" y2="366.56" stroke="#222" stroke-width="0.85"/>
<text x="192.30" y="432.10" font-size="8.8" font-weight="bold" text-anchor="end" fill="#000" transform="rotate(-43 192.30 432.10)">Lif</text>
<line x1="226.80" y1="420.00" x2="226.80" y2="422.00" stroke="#2a2a2a" stroke-width="0.7"/>
<rect x="207.90" y="419.26" width="4.90" height="0.74" fill="#fff" stroke="#111" stroke-width="0.95"/>
<rect x="213.10" y="415.61" width="4.40" height="4.39" fill="#8c8c8c" stroke="#1a1a1a" stroke-width="0.9"/>
<line x1="215.30" y1="412.50" x2="215.30" y2="418.12" stroke="#333" stroke-width="0.75"/>
<line x1="213.40" y1="412.50" x2="217.20" y2="412.50" stroke="#333" stroke-width="0.75"/>
<line x1="213.40" y1="418.12" x2="217.20" y2="418.12" stroke="#333" stroke-width="0.75"/>
<rect x="217.80" y="402.66" width="5.70" height="17.34" fill="#000"/>
<line x1="220.65" y1="399.38" x2="220.65" y2="402.66" stroke="#222" stroke-width="0.85"/>
<line x1="218.45" y1="399.38" x2="222.85" y2="399.38" stroke="#222" stroke-width="0.85"/>
<text x="214.70" y="432.10" font-size="8.8" font-weight="bold" text-anchor="end" fill="#000" transform="rotate(-43 214.70 432.10)">VEGF</text>
<line x1="249.20" y1="420.00" x2="249.20" y2="422.00" stroke="#2a2a2a" stroke-width="0.7"/>
<rect x="230.30" y="419.26" width="4.90" height="0.74" fill="#fff" stroke="#111" stroke-width="0.95"/>
<rect x="235.50" y="416.55" width="4.40" height="3.45" fill="#8c8c8c" stroke="#1a1a1a" stroke-width="0.9"/>
<line x1="237.70" y1="413.44" x2="237.70" y2="419.06" stroke="#333" stroke-width="0.75"/>
<line x1="235.80" y1="413.44" x2="239.60" y2="413.44" stroke="#333" stroke-width="0.75"/>
<line x1="235.80" y1="419.06" x2="239.60" y2="419.06" stroke="#333" stroke-width="0.75"/>
<rect x="240.20" y="377.34" width="5.70" height="42.66" fill="#000"/>
<line x1="243.05" y1="365.16" x2="243.05" y2="377.34" stroke="#222" stroke-width="0.85"/>
<line x1="240.85" y1="365.16" x2="245.25" y2="365.16" stroke="#222" stroke-width="0.85"/>
<text x="237.10" y="432.10" font-size="8.8" font-weight="bold" text-anchor="end" fill="#000" transform="rotate(-43 237.10 432.10)">CSF-1</text>
<text x="178.70" y="339.00" font-size="11.35" text-anchor="middle" fill="#000">Whole Lung</text>
<text x="0.00" y="0.00" font-size="8.5" font-weight="bold" text-anchor="middle" fill="#000" transform="translate(50.00 383.70) rotate(-90) scale(1 0.86)">Fold Changes</text>
<rect x="89.20" y="341.00" width="4.60" height="4.60" fill="#fff" stroke="#333" stroke-width="0.7"/>
<text x="96.50" y="346.30" font-size="8.5" font-weight="bold" text-anchor="start" fill="#000">WT +DOX</text>
<rect x="89.20" y="349.10" width="4.60" height="4.60" fill="#858585" stroke="#666" stroke-width="0.7"/>
<text x="96.50" y="354.40" font-size="8.5" font-weight="bold" text-anchor="start" fill="#000">Tg -DOX</text>
<rect x="89.20" y="357.20" width="4.60" height="4.60" fill="#000" stroke="#333" stroke-width="0.7"/>
<text x="96.50" y="362.50" font-size="8.5" font-weight="bold" text-anchor="start" fill="#000">Tg +DOX</text>
<line x1="301.20" y1="344.70" x2="301.20" y2="424.20" stroke="#c8c8c8" stroke-width="0.9"/>
<line x1="301.20" y1="424.20" x2="472.80" y2="424.20" stroke="#c8c8c8" stroke-width="1.0"/>
<text x="295.70" y="427.10" font-size="7.9" font-weight="bold" text-anchor="end" fill="#000">0</text>
<line x1="299.20" y1="424.20" x2="301.20" y2="424.20" stroke="#c8c8c8" stroke-width="0.7"/>
<text x="295.70" y="415.74" font-size="7.9" font-weight="bold" text-anchor="end" fill="#000">10</text>
<line x1="299.20" y1="412.84" x2="301.20" y2="412.84" stroke="#c8c8c8" stroke-width="0.7"/>
<text x="295.70" y="404.39" font-size="7.9" font-weight="bold" text-anchor="end" fill="#000">20</text>
<line x1="299.20" y1="401.49" x2="301.20" y2="401.49" stroke="#c8c8c8" stroke-width="0.7"/>
<text x="295.70" y="393.03" font-size="7.9" font-weight="bold" text-anchor="end" fill="#000">30</text>
<line x1="299.20" y1="390.13" x2="301.20" y2="390.13" stroke="#c8c8c8" stroke-width="0.7"/>
<text x="295.70" y="381.67" font-size="7.9" font-weight="bold" text-anchor="end" fill="#000">40</text>
<line x1="299.20" y1="378.77" x2="301.20" y2="378.77" stroke="#c8c8c8" stroke-width="0.7"/>
<text x="295.70" y="370.31" font-size="7.9" font-weight="bold" text-anchor="end" fill="#000">50</text>
<line x1="299.20" y1="367.41" x2="301.20" y2="367.41" stroke="#c8c8c8" stroke-width="0.7"/>
<text x="295.70" y="358.96" font-size="7.9" font-weight="bold" text-anchor="end" fill="#000">60</text>
<line x1="299.20" y1="356.06" x2="301.20" y2="356.06" stroke="#c8c8c8" stroke-width="0.7"/>
<text x="295.70" y="347.60" font-size="7.9" font-weight="bold" text-anchor="end" fill="#000">70</text>
<line x1="299.20" y1="344.70" x2="301.20" y2="344.70" stroke="#c8c8c8" stroke-width="0.7"/>
<line x1="322.65" y1="424.20" x2="322.65" y2="426.20" stroke="#c8c8c8" stroke-width="0.7"/>
<rect x="304.70" y="423.26" width="4.90" height="0.94" fill="#fff" stroke="#111" stroke-width="0.95"/>
<rect x="309.90" y="417.12" width="4.40" height="7.08" fill="#8c8c8c" stroke="#1a1a1a" stroke-width="0.9"/>
<rect x="314.60" y="388.43" width="5.70" height="35.77" fill="#000"/>
<line x1="317.45" y1="382.18" x2="317.45" y2="388.43" stroke="#222" stroke-width="0.85"/>
<line x1="315.25" y1="382.18" x2="319.65" y2="382.18" stroke="#222" stroke-width="0.85"/>
<text x="309.53" y="437.80" font-size="7.8" font-weight="bold" text-anchor="end" fill="#000" transform="rotate(-43 309.53 437.80)">CCL5</text>
<line x1="344.10" y1="424.20" x2="344.10" y2="426.20" stroke="#c8c8c8" stroke-width="0.7"/>
<rect x="326.15" y="423.26" width="4.90" height="0.94" fill="#fff" stroke="#111" stroke-width="0.95"/>
<rect x="331.35" y="417.69" width="4.40" height="6.51" fill="#8c8c8c" stroke="#1a1a1a" stroke-width="0.9"/>
<rect x="336.05" y="418.52" width="5.70" height="5.68" fill="#000"/>
<line x1="338.90" y1="415.11" x2="338.90" y2="418.52" stroke="#222" stroke-width="0.85"/>
<line x1="336.70" y1="415.11" x2="341.10" y2="415.11" stroke="#222" stroke-width="0.85"/>
<text x="330.98" y="437.80" font-size="7.8" font-weight="bold" text-anchor="end" fill="#000" transform="rotate(-43 330.98 437.80)">CCL8</text>
<line x1="365.55" y1="424.20" x2="365.55" y2="426.20" stroke="#c8c8c8" stroke-width="0.7"/>
<rect x="347.60" y="423.26" width="4.90" height="0.94" fill="#fff" stroke="#111" stroke-width="0.95"/>
<rect x="352.80" y="418.82" width="4.40" height="5.38" fill="#8c8c8c" stroke="#1a1a1a" stroke-width="0.9"/>
<line x1="355.00" y1="416.25" x2="355.00" y2="420.79" stroke="#333" stroke-width="0.75"/>
<line x1="353.10" y1="416.25" x2="356.90" y2="416.25" stroke="#333" stroke-width="0.75"/>
<line x1="353.10" y1="420.79" x2="356.90" y2="420.79" stroke="#333" stroke-width="0.75"/>
<rect x="357.50" y="417.39" width="5.70" height="6.81" fill="#000"/>
<line x1="360.35" y1="412.84" x2="360.35" y2="417.39" stroke="#222" stroke-width="0.85"/>
<line x1="358.15" y1="412.84" x2="362.55" y2="412.84" stroke="#222" stroke-width="0.85"/>
<text x="352.43" y="437.80" font-size="7.8" font-weight="bold" text-anchor="end" fill="#000" transform="rotate(-43 352.43 437.80)">IL-1β</text>
<line x1="387.00" y1="424.20" x2="387.00" y2="426.20" stroke="#c8c8c8" stroke-width="0.7"/>
<rect x="369.05" y="423.26" width="4.90" height="0.94" fill="#fff" stroke="#111" stroke-width="0.95"/>
<rect x="374.25" y="421.09" width="4.40" height="3.11" fill="#8c8c8c" stroke="#1a1a1a" stroke-width="0.9"/>
<rect x="378.95" y="421.93" width="5.70" height="2.27" fill="#000"/>
<text x="373.88" y="437.80" font-size="7.8" font-weight="bold" text-anchor="end" fill="#000" transform="rotate(-43 373.88 437.80)">TNFsf9</text>
<line x1="408.45" y1="424.20" x2="408.45" y2="426.20" stroke="#c8c8c8" stroke-width="0.7"/>
<rect x="390.50" y="423.26" width="4.90" height="0.94" fill="#fff" stroke="#111" stroke-width="0.95"/>
<rect x="395.70" y="421.66" width="4.40" height="2.54" fill="#8c8c8c" stroke="#1a1a1a" stroke-width="0.9"/>
<line x1="397.90" y1="419.66" x2="397.90" y2="423.06" stroke="#333" stroke-width="0.75"/>
<line x1="396.00" y1="419.66" x2="399.80" y2="419.66" stroke="#333" stroke-width="0.75"/>
<line x1="396.00" y1="423.06" x2="399.80" y2="423.06" stroke="#333" stroke-width="0.75"/>
<rect x="400.40" y="361.74" width="5.70" height="62.46" fill="#000"/>
<line x1="403.25" y1="358.33" x2="403.25" y2="361.74" stroke="#222" stroke-width="0.85"/>
<line x1="401.05" y1="358.33" x2="405.45" y2="358.33" stroke="#222" stroke-width="0.85"/>
<text x="395.33" y="437.80" font-size="7.8" font-weight="bold" text-anchor="end" fill="#000" transform="rotate(-43 395.33 437.80)">Gp130</text>
<line x1="429.90" y1="424.20" x2="429.90" y2="426.20" stroke="#c8c8c8" stroke-width="0.7"/>
<rect x="411.95" y="423.26" width="4.90" height="0.94" fill="#fff" stroke="#111" stroke-width="0.95"/>
<rect x="417.15" y="421.66" width="4.40" height="2.54" fill="#8c8c8c" stroke="#1a1a1a" stroke-width="0.9"/>
<line x1="419.35" y1="420.22" x2="419.35" y2="422.50" stroke="#333" stroke-width="0.75"/>
<line x1="417.45" y1="420.22" x2="421.25" y2="420.22" stroke="#333" stroke-width="0.75"/>
<line x1="417.45" y1="422.50" x2="421.25" y2="422.50" stroke="#333" stroke-width="0.75"/>
<rect x="421.85" y="388.99" width="5.70" height="35.21" fill="#000"/>
<line x1="424.70" y1="384.45" x2="424.70" y2="388.99" stroke="#222" stroke-width="0.85"/>
<line x1="422.50" y1="384.45" x2="426.90" y2="384.45" stroke="#222" stroke-width="0.85"/>
<text x="416.78" y="437.80" font-size="7.8" font-weight="bold" text-anchor="end" fill="#000" transform="rotate(-43 416.78 437.80)">Lif</text>
<line x1="451.35" y1="424.20" x2="451.35" y2="426.20" stroke="#c8c8c8" stroke-width="0.7"/>
<rect x="433.40" y="423.26" width="4.90" height="0.94" fill="#fff" stroke="#111" stroke-width="0.95"/>
<rect x="438.60" y="419.96" width="4.40" height="4.24" fill="#8c8c8c" stroke="#1a1a1a" stroke-width="0.9"/>
<line x1="440.80" y1="416.25" x2="440.80" y2="423.06" stroke="#333" stroke-width="0.75"/>
<line x1="438.90" y1="416.25" x2="442.70" y2="416.25" stroke="#333" stroke-width="0.75"/>
<line x1="438.90" y1="423.06" x2="442.70" y2="423.06" stroke="#333" stroke-width="0.75"/>
<rect x="443.30" y="403.76" width="5.70" height="20.44" fill="#000"/>
<line x1="446.15" y1="402.05" x2="446.15" y2="403.76" stroke="#222" stroke-width="0.85"/>
<line x1="443.95" y1="402.05" x2="448.35" y2="402.05" stroke="#222" stroke-width="0.85"/>
<text x="438.23" y="437.80" font-size="7.8" font-weight="bold" text-anchor="end" fill="#000" transform="rotate(-43 438.23 437.80)">VEGF</text>
<line x1="472.80" y1="424.20" x2="472.80" y2="426.20" stroke="#c8c8c8" stroke-width="0.7"/>
<rect x="454.85" y="423.26" width="4.90" height="0.94" fill="#fff" stroke="#111" stroke-width="0.95"/>
<rect x="460.05" y="418.82" width="4.40" height="5.38" fill="#8c8c8c" stroke="#1a1a1a" stroke-width="0.9"/>
<line x1="462.25" y1="415.68" x2="462.25" y2="421.36" stroke="#333" stroke-width="0.75"/>
<line x1="460.35" y1="415.68" x2="464.15" y2="415.68" stroke="#333" stroke-width="0.75"/>
<line x1="460.35" y1="421.36" x2="464.15" y2="421.36" stroke="#333" stroke-width="0.75"/>
<rect x="464.75" y="415.68" width="5.70" height="8.52" fill="#000"/>
<line x1="467.60" y1="412.27" x2="467.60" y2="415.68" stroke="#222" stroke-width="0.85"/>
<line x1="465.40" y1="412.27" x2="469.80" y2="412.27" stroke="#222" stroke-width="0.85"/>
<text x="459.68" y="437.80" font-size="7.8" font-weight="bold" text-anchor="end" fill="#000" transform="rotate(-43 459.68 437.80)">CSF-1</text>
<text x="413.00" y="339.00" font-size="11.35" text-anchor="middle" fill="#000">Type II</text>
<text x="0.00" y="0.00" font-size="8.0" font-weight="bold" text-anchor="middle" fill="#000" transform="translate(280.40 384.45) rotate(-90) scale(1 0.9)">Fold Changes</text>
<rect x="312.70" y="341.90" width="4.60" height="4.60" fill="#fff" stroke="#333" stroke-width="0.7"/>
<text x="320.00" y="347.20" font-size="8.0" font-weight="bold" text-anchor="start" fill="#000">WT +DOX</text>
<rect x="312.70" y="349.60" width="4.60" height="4.60" fill="#858585" stroke="#666" stroke-width="0.7"/>
<text x="320.00" y="354.90" font-size="8.0" font-weight="bold" text-anchor="start" fill="#000">Tg -DOX</text>
<rect x="312.70" y="357.30" width="4.60" height="4.60" fill="#000" stroke="#333" stroke-width="0.7"/>
<text x="320.00" y="362.60" font-size="8.0" font-weight="bold" text-anchor="start" fill="#000">Tg +DOX</text>
<line x1="150.50" y1="483.10" x2="150.50" y2="562.50" stroke="#c8c8c8" stroke-width="0.9"/>
<line x1="150.50" y1="562.50" x2="330.50" y2="562.50" stroke="#c8c8c8" stroke-width="1.0"/>
<text x="145.10" y="565.40" font-size="8.2" font-weight="bold" text-anchor="end" fill="#000">0</text>
<line x1="148.50" y1="562.50" x2="150.50" y2="562.50" stroke="#c8c8c8" stroke-width="0.7"/>
<text x="145.10" y="555.48" font-size="8.2" font-weight="bold" text-anchor="end" fill="#000">5</text>
<line x1="148.50" y1="552.58" x2="150.50" y2="552.58" stroke="#c8c8c8" stroke-width="0.7"/>
<text x="145.10" y="545.55" font-size="8.2" font-weight="bold" text-anchor="end" fill="#000">10</text>
<line x1="148.50" y1="542.65" x2="150.50" y2="542.65" stroke="#c8c8c8" stroke-width="0.7"/>
<text x="145.10" y="535.62" font-size="8.2" font-weight="bold" text-anchor="end" fill="#000">15</text>
<line x1="148.50" y1="532.73" x2="150.50" y2="532.73" stroke="#c8c8c8" stroke-width="0.7"/>
<text x="145.10" y="525.70" font-size="8.2" font-weight="bold" text-anchor="end" fill="#000">20</text>
<line x1="148.50" y1="522.80" x2="150.50" y2="522.80" stroke="#c8c8c8" stroke-width="0.7"/>
<text x="145.10" y="515.77" font-size="8.2" font-weight="bold" text-anchor="end" fill="#000">25</text>
<line x1="148.50" y1="512.88" x2="150.50" y2="512.88" stroke="#c8c8c8" stroke-width="0.7"/>
<text x="145.10" y="505.85" font-size="8.2" font-weight="bold" text-anchor="end" fill="#000">30</text>
<line x1="148.50" y1="502.95" x2="150.50" y2="502.95" stroke="#c8c8c8" stroke-width="0.7"/>
<text x="145.10" y="495.93" font-size="8.2" font-weight="bold" text-anchor="end" fill="#000">35</text>
<line x1="148.50" y1="493.03" x2="150.50" y2="493.03" stroke="#c8c8c8" stroke-width="0.7"/>
<text x="145.10" y="486.00" font-size="8.2" font-weight="bold" text-anchor="end" fill="#000">40</text>
<line x1="148.50" y1="483.10" x2="150.50" y2="483.10" stroke="#c8c8c8" stroke-width="0.7"/>
<line x1="173.00" y1="562.50" x2="173.00" y2="564.50" stroke="#c8c8c8" stroke-width="0.7"/>
<rect x="154.50" y="560.72" width="4.70" height="1.78" fill="#fff" stroke="#111" stroke-width="0.95"/>
<rect x="159.50" y="554.86" width="4.40" height="7.64" fill="#8c8c8c" stroke="#1a1a1a" stroke-width="0.9"/>
<line x1="161.70" y1="552.58" x2="161.70" y2="556.54" stroke="#333" stroke-width="0.75"/>
<line x1="159.80" y1="552.58" x2="163.60" y2="552.58" stroke="#333" stroke-width="0.75"/>
<line x1="159.80" y1="556.54" x2="163.60" y2="556.54" stroke="#333" stroke-width="0.75"/>
<rect x="164.20" y="507.91" width="5.80" height="54.59" fill="#000"/>
<line x1="167.10" y1="496.00" x2="167.10" y2="507.91" stroke="#222" stroke-width="0.85"/>
<line x1="164.90" y1="496.00" x2="169.30" y2="496.00" stroke="#222" stroke-width="0.85"/>
<text x="159.85" y="576.10" font-size="7.8" font-weight="bold" text-anchor="end" fill="#000" transform="rotate(-43 159.85 576.10)">CCL5</text>
<line x1="195.50" y1="562.50" x2="195.50" y2="564.50" stroke="#c8c8c8" stroke-width="0.7"/>
<rect x="177.00" y="560.72" width="4.70" height="1.78" fill="#fff" stroke="#111" stroke-width="0.95"/>
<rect x="182.00" y="556.84" width="4.40" height="5.65" fill="#8c8c8c" stroke="#1a1a1a" stroke-width="0.9"/>
<line x1="184.20" y1="553.57" x2="184.20" y2="559.52" stroke="#333" stroke-width="0.75"/>
<line x1="182.30" y1="553.57" x2="186.10" y2="553.57" stroke="#333" stroke-width="0.75"/>
<line x1="182.30" y1="559.52" x2="186.10" y2="559.52" stroke="#333" stroke-width="0.75"/>
<rect x="186.70" y="524.78" width="5.80" height="37.71" fill="#000"/>
<line x1="189.60" y1="520.82" x2="189.60" y2="524.78" stroke="#222" stroke-width="0.85"/>
<line x1="187.40" y1="520.82" x2="191.80" y2="520.82" stroke="#222" stroke-width="0.85"/>
<text x="182.35" y="576.10" font-size="7.8" font-weight="bold" text-anchor="end" fill="#000" transform="rotate(-43 182.35 576.10)">CCL8</text>
<line x1="218.00" y1="562.50" x2="218.00" y2="564.50" stroke="#c8c8c8" stroke-width="0.7"/>
<rect x="199.50" y="560.72" width="4.70" height="1.78" fill="#fff" stroke="#111" stroke-width="0.95"/>
<rect x="204.50" y="558.83" width="4.40" height="3.67" fill="#8c8c8c" stroke="#1a1a1a" stroke-width="0.9"/>
<line x1="206.70" y1="555.55" x2="206.70" y2="561.51" stroke="#333" stroke-width="0.75"/>
<line x1="204.80" y1="555.55" x2="208.60" y2="555.55" stroke="#333" stroke-width="0.75"/>
<line x1="204.80" y1="561.51" x2="208.60" y2="561.51" stroke="#333" stroke-width="0.75"/>
<rect x="209.20" y="537.69" width="5.80" height="24.81" fill="#000"/>
<line x1="212.10" y1="535.70" x2="212.10" y2="537.69" stroke="#222" stroke-width="0.85"/>
<line x1="209.90" y1="535.70" x2="214.30" y2="535.70" stroke="#222" stroke-width="0.85"/>
<text x="204.85" y="576.10" font-size="7.8" font-weight="bold" text-anchor="end" fill="#000" transform="rotate(-43 204.85 576.10)">IL-1β</text>
<line x1="240.50" y1="562.50" x2="240.50" y2="564.50" stroke="#c8c8c8" stroke-width="0.7"/>
<rect x="222.00" y="560.72" width="4.70" height="1.78" fill="#fff" stroke="#111" stroke-width="0.95"/>
<rect x="227.00" y="556.84" width="4.40" height="5.65" fill="#8c8c8c" stroke="#1a1a1a" stroke-width="0.9"/>
<line x1="229.20" y1="554.56" x2="229.20" y2="558.53" stroke="#333" stroke-width="0.75"/>
<line x1="227.30" y1="554.56" x2="231.10" y2="554.56" stroke="#333" stroke-width="0.75"/>
<line x1="227.30" y1="558.53" x2="231.10" y2="558.53" stroke="#333" stroke-width="0.75"/>
<rect x="231.70" y="542.65" width="5.80" height="19.85" fill="#000"/>
<line x1="234.60" y1="540.66" x2="234.60" y2="542.65" stroke="#222" stroke-width="0.85"/>
<line x1="232.40" y1="540.66" x2="236.80" y2="540.66" stroke="#222" stroke-width="0.85"/>
<text x="227.35" y="576.10" font-size="7.8" font-weight="bold" text-anchor="end" fill="#000" transform="rotate(-43 227.35 576.10)">TNFsf9</text>
<line x1="263.00" y1="562.50" x2="263.00" y2="564.50" stroke="#c8c8c8" stroke-width="0.7"/>
<rect x="244.50" y="560.72" width="4.70" height="1.78" fill="#fff" stroke="#111" stroke-width="0.95"/>
<rect x="249.50" y="558.83" width="4.40" height="3.67" fill="#8c8c8c" stroke="#1a1a1a" stroke-width="0.9"/>
<line x1="251.70" y1="556.54" x2="251.70" y2="560.51" stroke="#333" stroke-width="0.75"/>
<line x1="249.80" y1="556.54" x2="253.60" y2="556.54" stroke="#333" stroke-width="0.75"/>
<line x1="249.80" y1="560.51" x2="253.60" y2="560.51" stroke="#333" stroke-width="0.75"/>
<rect x="254.20" y="520.82" width="5.80" height="41.68" fill="#000"/>
<line x1="257.10" y1="502.95" x2="257.10" y2="520.82" stroke="#222" stroke-width="0.85"/>
<line x1="254.90" y1="502.95" x2="259.30" y2="502.95" stroke="#222" stroke-width="0.85"/>
<text x="249.85" y="576.10" font-size="7.8" font-weight="bold" text-anchor="end" fill="#000" transform="rotate(-43 249.85 576.10)">Gp130</text>
<line x1="285.50" y1="562.50" x2="285.50" y2="564.50" stroke="#c8c8c8" stroke-width="0.7"/>
<rect x="267.00" y="560.72" width="4.70" height="1.78" fill="#fff" stroke="#111" stroke-width="0.95"/>
<rect x="272.00" y="556.84" width="4.40" height="5.65" fill="#8c8c8c" stroke="#1a1a1a" stroke-width="0.9"/>
<line x1="274.20" y1="551.58" x2="274.20" y2="561.51" stroke="#333" stroke-width="0.75"/>
<line x1="272.30" y1="551.58" x2="276.10" y2="551.58" stroke="#333" stroke-width="0.75"/>
<line x1="272.30" y1="561.51" x2="276.10" y2="561.51" stroke="#333" stroke-width="0.75"/>
<rect x="276.70" y="528.75" width="5.80" height="33.74" fill="#000"/>
<line x1="279.60" y1="518.83" x2="279.60" y2="528.75" stroke="#222" stroke-width="0.85"/>
<line x1="277.40" y1="518.83" x2="281.80" y2="518.83" stroke="#222" stroke-width="0.85"/>
<text x="272.35" y="576.10" font-size="7.8" font-weight="bold" text-anchor="end" fill="#000" transform="rotate(-43 272.35 576.10)">Lif</text>
<line x1="308.00" y1="562.50" x2="308.00" y2="564.50" stroke="#c8c8c8" stroke-width="0.7"/>
<rect x="289.50" y="560.72" width="4.70" height="1.78" fill="#fff" stroke="#111" stroke-width="0.95"/>
<rect x="294.50" y="556.84" width="4.40" height="5.65" fill="#8c8c8c" stroke="#1a1a1a" stroke-width="0.9"/>
<line x1="296.70" y1="550.59" x2="296.70" y2="562.50" stroke="#333" stroke-width="0.75"/>
<line x1="294.80" y1="550.59" x2="298.60" y2="550.59" stroke="#333" stroke-width="0.75"/>
<line x1="294.80" y1="562.50" x2="298.60" y2="562.50" stroke="#333" stroke-width="0.75"/>
<rect x="299.20" y="554.56" width="5.80" height="7.94" fill="#000"/>
<line x1="302.10" y1="551.58" x2="302.10" y2="554.56" stroke="#222" stroke-width="0.85"/>
<line x1="299.90" y1="551.58" x2="304.30" y2="551.58" stroke="#222" stroke-width="0.85"/>
<text x="294.85" y="576.10" font-size="7.8" font-weight="bold" text-anchor="end" fill="#000" transform="rotate(-43 294.85 576.10)">VEGF</text>
<line x1="330.50" y1="562.50" x2="330.50" y2="564.50" stroke="#c8c8c8" stroke-width="0.7"/>
<rect x="312.00" y="560.72" width="4.70" height="1.78" fill="#fff" stroke="#111" stroke-width="0.95"/>
<rect x="317.00" y="557.84" width="4.40" height="4.66" fill="#8c8c8c" stroke="#1a1a1a" stroke-width="0.9"/>
<line x1="319.20" y1="555.55" x2="319.20" y2="559.52" stroke="#333" stroke-width="0.75"/>
<line x1="317.30" y1="555.55" x2="321.10" y2="555.55" stroke="#333" stroke-width="0.75"/>
<line x1="317.30" y1="559.52" x2="321.10" y2="559.52" stroke="#333" stroke-width="0.75"/>
<rect x="321.70" y="530.74" width="5.80" height="31.76" fill="#000"/>
<line x1="324.60" y1="526.77" x2="324.60" y2="530.74" stroke="#222" stroke-width="0.85"/>
<line x1="322.40" y1="526.77" x2="326.80" y2="526.77" stroke="#222" stroke-width="0.85"/>
<text x="317.35" y="576.10" font-size="7.8" font-weight="bold" text-anchor="end" fill="#000" transform="rotate(-43 317.35 576.10)">CSF-1</text>
<text x="281.70" y="483.00" font-size="11.35" text-anchor="middle" fill="#000">Macrophage</text>
<text x="0.00" y="0.00" font-size="8.2" font-weight="bold" text-anchor="middle" fill="#000" transform="translate(132.20 522.80) rotate(-90) scale(1 0.9)">Fold Changes</text>
<rect x="168.70" y="479.00" width="4.60" height="4.60" fill="#fff" stroke="#333" stroke-width="0.7"/>
<text x="176.00" y="484.30" font-size="8.05" font-weight="bold" text-anchor="start" fill="#000">WT +DOX</text>
<rect x="168.70" y="486.90" width="4.60" height="4.60" fill="#858585" stroke="#666" stroke-width="0.7"/>
<text x="176.00" y="492.20" font-size="8.05" font-weight="bold" text-anchor="start" fill="#000">Tg -DOX</text>
<rect x="168.70" y="494.80" width="4.60" height="4.60" fill="#000" stroke="#333" stroke-width="0.7"/>
<text x="176.00" y="500.10" font-size="8.05" font-weight="bold" text-anchor="start" fill="#000">Tg +DOX</text>
</g>
</svg>
</body>
</html>
